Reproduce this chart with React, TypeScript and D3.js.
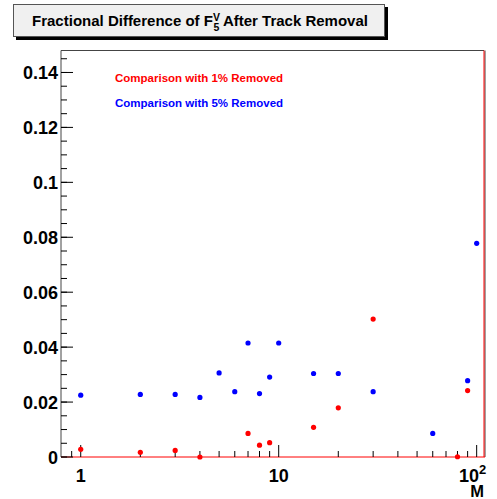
import React from "react";
import * as d3 from "d3";

const blueM = [1, 2, 3, 4, 5, 6, 7, 8, 9, 10, 15, 20, 30, 60, 90, 100];
const blueV = [0.0225, 0.0228, 0.0228, 0.0217, 0.0306, 0.0238, 0.0415, 0.0231, 0.0291, 0.0415, 0.0304, 0.0304, 0.0238, 0.0086, 0.0278, 0.0778];
const redM = [1, 2, 3, 4, 7, 8, 9, 15, 20, 30, 80, 90];
const redV = [0.0028, 0.0017, 0.0024, 0.0, 0.0086, 0.0043, 0.0052, 0.0108, 0.0179, 0.0502, 0.0001, 0.0242];
const yTickVals = [0, 0.02, 0.04, 0.06, 0.08, 0.1, 0.12, 0.14];
const yTickLabels = ["0", "0.02", "0.04", "0.06", "0.08", "0.1", "0.12", "0.14"];
const xMajor = [1, 10, 100];
const xMinor = [0.9, 2, 3, 4, 5, 6, 7, 8, 9, 20, 30, 40, 50, 60, 70, 80, 90];
const legendLabels = ["Comparison with 1% Removed", "Comparison with 5% Removed"];

const W = 497, H = 499;
const L = 61, R = 484, T = 50.5, B = 457;

export default function App() {
  const x = d3.scaleLog().domain([0.795, 108.9]).range([L, R]);
  const y = d3.scaleLinear().domain([0, 0.148]).range([B, T]);
  const yMinor = d3.range(0, 0.1451, 0.005);
  const font = "'Liberation Sans', Arial, Helvetica, sans-serif";
  return (
    <svg width={W} height={H} style={{ position: "absolute", left: 0, top: 0 }} fontFamily={font}>
      <rect width={W} height={H} fill="#fff" />
      {/* title box */}
      <rect x={16} y={7} width={372} height={33} fill="#000" />
      <rect x={13.5} y={4.5} width={371} height={32} fill="#f0f0f0" stroke="#555" strokeWidth={1} />
      <text x={200} y={26} textAnchor="middle" fontSize={15} fontWeight="bold" fill="#000">
        Fractional Difference of F
        <tspan dy={-5} fontSize={10.5}>V</tspan>
        <tspan dx={-6.5} dy={10} fontSize={10.5}>5</tspan>
        <tspan dy={-5}> After Track Removal</tspan>
      </text>
      {/* frame */}
      <line x1={L} y1={T} x2={R} y2={T} stroke="#444" />
      <line x1={L} y1={T} x2={L} y2={B} stroke="#444" />
      <line x1={R + 1} y1={T} x2={R + 1} y2={B} stroke="#444" />
      <line x1={R} y1={T} x2={R} y2={B} stroke="#f00" />
      <line x1={L} y1={B} x2={R + 1} y2={B} stroke="#f00" />
      {/* y ticks */}
      {yMinor.map((v, i) => (
        <line key={"ym" + i} x1={L} x2={L + 6} y1={y(v)} y2={y(v)} stroke="#000" />
      ))}
      {yTickVals.map((v, i) => (
        <g key={"yt" + i}>
          <line x1={L} x2={L + 12} y1={y(v)} y2={y(v)} stroke="#000" />
          <text x={L - 3} y={y(v) + 6.5} textAnchor="end" fontSize={18} fontWeight="bold">{yTickLabels[i]}</text>
        </g>
      ))}
      {/* x ticks */}
      {xMinor.map((v, i) => (
        <line key={"xm" + i} x1={x(v)} x2={x(v)} y1={B} y2={B - 6} stroke="#000" />
      ))}
      {xMajor.map((v, i) => (
        <line key={"xM" + i} x1={x(v)} x2={x(v)} y1={B} y2={B - 12} stroke="#000" />
      ))}
      <text x={x(1)} y={482} textAnchor="middle" fontSize={18} fontWeight="bold">1</text>
      <text x={x(10)} y={482} textAnchor="middle" fontSize={18} fontWeight="bold">10</text>
      <text x={x(100) - 4} y={482} textAnchor="middle" fontSize={18} fontWeight="bold">10<tspan dy={-8} fontSize={13}>2</tspan></text>
      <text x={R} y={496.5} textAnchor="end" fontSize={16.5} fontWeight="bold">M</text>
      {/* legend */}
      <text x={115} y={82} fontSize={11.5} fontWeight="bold" fill="#f00">{legendLabels[0]}</text>
      <text x={115} y={107} fontSize={11.5} fontWeight="bold" fill="#00f">{legendLabels[1]}</text>
      {/* points */}
      {redM.map((m, i) => (
        <circle key={"r" + i} cx={x(m)} cy={y(redV[i])} r={2.6} fill="#f00" />
      ))}
      {blueM.map((m, i) => (
        <circle key={"b" + i} cx={x(m)} cy={y(blueV[i])} r={2.6} fill="#00f" />
      ))}
    </svg>
  );
}
